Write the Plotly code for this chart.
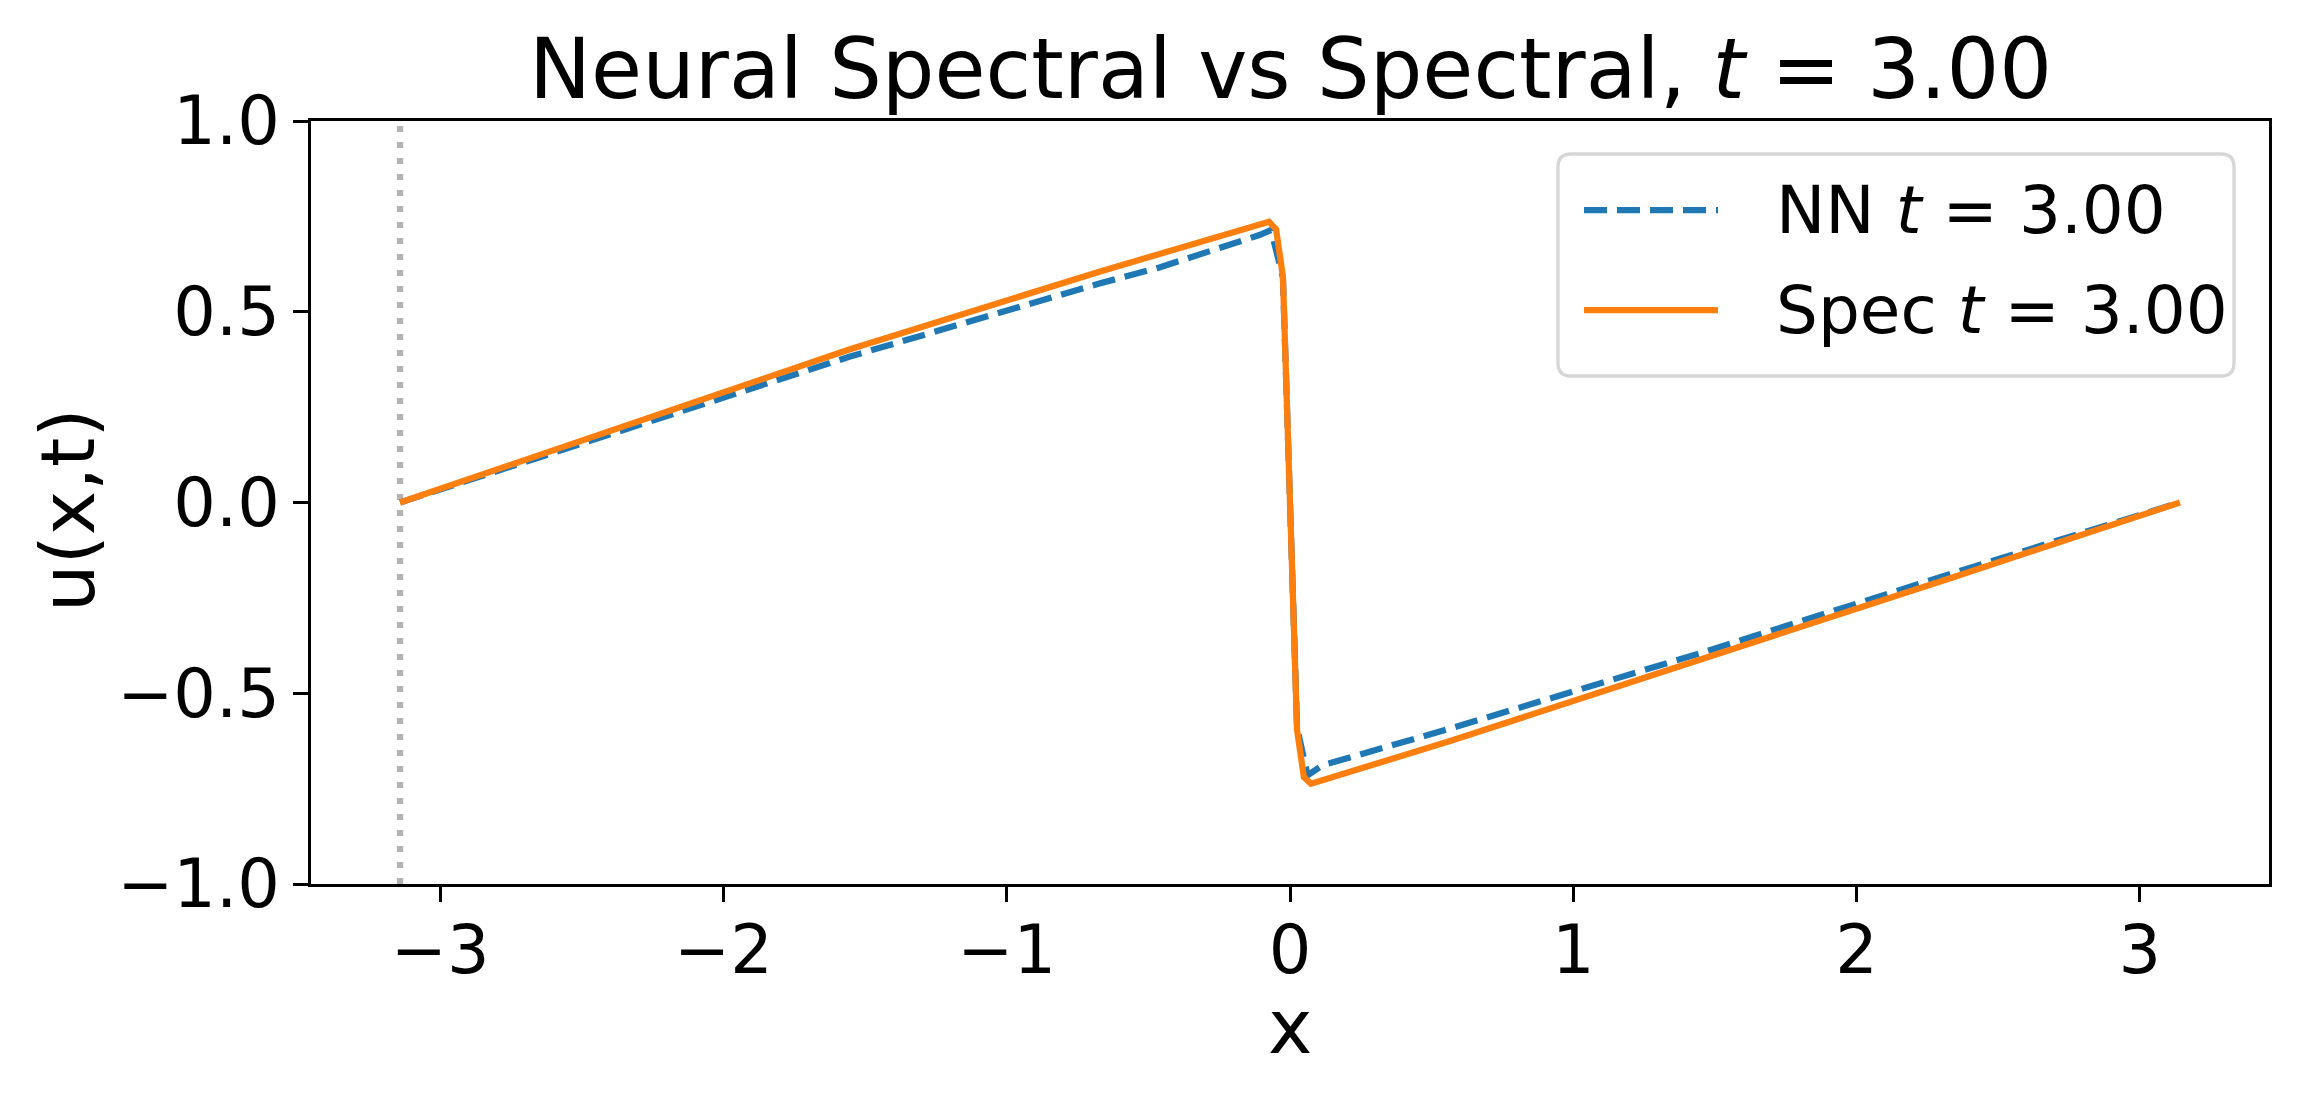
import plotly.graph_objects as go

nn_x = [-3.1416, -2.439, -1.556, -0.673, -0.461, -0.108, -0.067, -0.025, 0.0,
        0.025, 0.062, 0.114, 0.5625, 1.444, 2.328, 3.1416]
nn_u = [0.0, 0.168, 0.382, 0.574, 0.616, 0.701, 0.714, 0.59, 0.0,
        -0.59, -0.715, -0.689, -0.593, -0.396, -0.188, 0.0]

spec_x = [-3.1416, -2.439, -1.556, -0.673, -0.497, -0.074, -0.049, -0.025, 0.0,
          0.025, 0.049, 0.074, 0.5625, 1.444, 2.328, 3.1416]
spec_u = [0.0, 0.178, 0.401, 0.605, 0.643, 0.736, 0.716, 0.592, 0.0,
          -0.597, -0.720, -0.737, -0.626, -0.414, -0.199, 0.0]

x_ticks = [-3, -2, -1, 0, 1, 2, 3]
x_ticktext = ["\u22123", "\u22122", "\u22121", "0", "1", "2", "3"]
y_ticks = [-1.0, -0.5, 0.0, 0.5, 1.0]
y_ticktext = ["\u22121.0", "\u22120.5", "0.0", "0.5", "1.0"]

boundary_x = -3.1416
t_label = "3.00"

W, H = 2298, 1099
L, R, T, B = 311, 29, 121, 215
PW, PH = W - L - R, H - T - B
FONT = "DejaVu Sans"
BLUE = "#1f77b4"
ORANGE = "#ff7f0e"


def px(xp):
    return (xp - L) / PW


def py(yp):
    return (H - B - yp) / PH


fig = go.Figure()

fig.add_trace(go.Scatter(
    x=nn_x, y=nn_u, mode="lines",
    line=dict(color=BLUE, width=6.25, dash="23px,10px"),
    showlegend=False,
))
fig.add_trace(go.Scatter(
    x=spec_x, y=spec_u, mode="lines",
    line=dict(color=ORANGE, width=6.25),
    showlegend=False,
))

shapes = [
    dict(type="line", xref="x", yref="paper", x0=boundary_x, x1=boundary_x,
         y0=0, y1=1, layer="below",
         line=dict(color="#b3b3b3", width=6.25, dash="6px,10px")),
]

# legend box (rounded corners)
bx0, bx1, by0, by1, r = 1558, 2234, 154, 376, 13
path = (
    f"M{px(bx0 + r)},{py(by0)} L{px(bx1 - r)},{py(by0)} "
    f"Q{px(bx1)},{py(by0)} {px(bx1)},{py(by0 + r)} "
    f"L{px(bx1)},{py(by1 - r)} Q{px(bx1)},{py(by1)} {px(bx1 - r)},{py(by1)} "
    f"L{px(bx0 + r)},{py(by1)} Q{px(bx0)},{py(by1)} {px(bx0)},{py(by1 - r)} "
    f"L{px(bx0)},{py(by0 + r)} Q{px(bx0)},{py(by0)} {px(bx0 + r)},{py(by0)} Z"
)
shapes.append(dict(type="path", xref="paper", yref="paper", path=path,
                   fillcolor="rgba(255,255,255,0.8)",
                   line=dict(color="#d6d6d6", width=3.3)))
shapes.append(dict(type="line", xref="paper", yref="paper",
                   x0=px(1584), x1=px(1718), y0=py(210), y1=py(210),
                   line=dict(color=BLUE, width=6.25, dash="23px,10px")))
shapes.append(dict(type="line", xref="paper", yref="paper",
                   x0=px(1584), x1=px(1718), y0=py(310), y1=py(310),
                   line=dict(color=ORANGE, width=6.25)))

annotations = [
    dict(text=f"Neural Spectral vs Spectral, <i>t</i> = {t_label}",
         xref="paper", yref="paper", x=0.5, y=py(120), xanchor="center",
         yanchor="bottom", showarrow=False,
         font=dict(family=FONT, size=83, color="black")),
    dict(text="x", xref="paper", yref="paper", x=0.5, y=py(1027),
         xanchor="center", yanchor="middle", showarrow=False,
         font=dict(family=FONT, size=75, color="black")),
    dict(text="u(x,t)", xref="paper", yref="paper", x=px(68), y=py(510),
         xanchor="center", yanchor="middle", textangle=-90, showarrow=False,
         font=dict(family=FONT, size=75, color="black")),
    dict(text=f"NN <i>t</i> = {t_label}", xref="paper", yref="paper",
         x=px(1774), y=py(210), xanchor="left", yanchor="middle",
         showarrow=False, font=dict(family=FONT, size=66, color="black")),
    dict(text=f"Spec <i>t</i> = {t_label}", xref="paper", yref="paper",
         x=px(1774), y=py(310), xanchor="left", yanchor="middle",
         showarrow=False, font=dict(family=FONT, size=66, color="black")),
]

axis_common = dict(
    showgrid=False, zeroline=False, showline=True, mirror=True,
    linecolor="black", linewidth=3.3, ticks="outside", ticklen=14.6,
    tickwidth=3.3, tickcolor="black",
    tickfont=dict(family=FONT, size=67, color="black"),
)

fig.update_layout(
    width=W, height=H,
    margin=dict(l=L, r=R, t=T, b=B, pad=0),
    plot_bgcolor="white", paper_bgcolor="white",
    showlegend=False,
    xaxis=dict(range=[-3.456, 3.456], tickvals=x_ticks, ticktext=x_ticktext,
               ticklabelstandoff=-9, **axis_common),
    yaxis=dict(range=[-1, 1], tickvals=y_ticks, ticktext=y_ticktext,
               **axis_common),
    shapes=shapes,
    annotations=annotations,
)

fig.write_html("out.html", config={"displayModeBar": False},
               post_script="document.body.style.margin='0';")
